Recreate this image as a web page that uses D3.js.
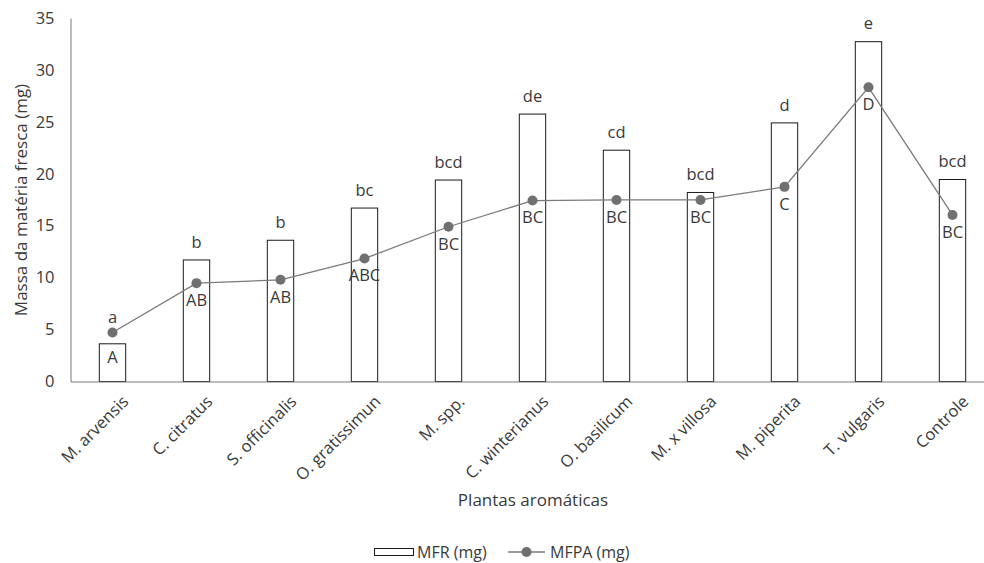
<!DOCTYPE html>
<html><head><meta charset="utf-8">
<script src="https://cdn.jsdelivr.net/npm/d3@7"></script>
<style>
html,body{margin:0;padding:0;background:#fff;}
text{font-family:"Open Sans","Lato",sans-serif;fill:#3a3a3a;}
</style></head>
<body><svg id="chart" width="984" height="563"></svg>
<script>
const categories = ["M. arvensis","C. citratus","S. officinalis","O. gratissimun","M. spp.","C. winterianus","O. basilicum","M. x villosa","M. piperita","T. vulgaris","Controle"];
const mfr  = [3.63, 11.7, 13.6, 16.7, 19.4, 25.75, 22.27, 18.2, 24.9, 32.72, 19.45];
const mfpa = [4.72, 9.47, 9.79, 11.84, 14.9, 17.42, 17.48, 17.48, 18.74, 28.33, 16.04];
const mfrLetters  = ["a","b","b","bc","bcd","de","cd","bcd","d","e","bcd"];
const mfpaLetters = ["A","AB","AB","ABC","BC","BC","BC","BC","C","D","BC"];
const yTicks = [0,5,10,15,20,25,30,35];

const FS = "16.5px";
const svg = d3.select("#chart");
const x = d3.scaleBand().domain(categories).range([70.5, 994.5]).paddingInner(0.686).paddingOuter(0.343);
const y = d3.scaleLinear().domain([0,35]).range([381.5, 18]);
const cx = c => x(c) + x.bandwidth()/2;

// bars
svg.append("g").selectAll("rect").data(categories).join("rect")
  .attr("x", d => x(d)).attr("y", (d,i) => y(mfr[i]))
  .attr("width", x.bandwidth()).attr("height", (d,i) => y(0) - y(mfr[i]))
  .attr("fill", "#fff").attr("stroke", "#1a1a1a").attr("stroke-width", 1);

// axes
const yAxis = svg.append("g").attr("transform", "translate(70.5,0)")
  .call(d3.axisLeft(y).tickValues(yTicks).tickSize(0).tickPadding(16));
yAxis.select(".domain").attr("stroke", "#7a7a7a");
yAxis.selectAll("text").style("font-size", FS).attr("fill", "#3a3a3a");

const xAxis = svg.append("g").attr("transform", `translate(0,${y(0)})`)
  .call(d3.axisBottom(x).tickSize(0).tickPadding(0));
xAxis.select(".domain").attr("stroke", "#7a7a7a");
xAxis.selectAll("text").style("font-size", FS).attr("fill", "#3a3a3a")
  .attr("text-anchor", "end")
  .attr("transform", "translate(13,17) rotate(-45)").attr("dy", "0.35em");

// line
const line = d3.line().x((d,i) => cx(categories[i])).y(d => y(d));
svg.append("path").datum(mfpa).attr("d", line)
  .attr("fill", "none").attr("stroke", "#7a7a7a").attr("stroke-width", 1.3);
svg.append("g").selectAll("circle").data(mfpa).join("circle")
  .attr("cx", (d,i) => cx(categories[i])).attr("cy", d => y(d)).attr("r", 5)
  .attr("fill", "#707070");

// labels
svg.append("g").selectAll("text").data(mfrLetters).join("text")
  .attr("x", (d,i) => cx(categories[i]))
  .attr("y", (d,i) => Math.min(y(mfr[i]) - 18, y(mfpa[i]) - 15))
  .attr("dy", "0.35em").attr("text-anchor", "middle").style("font-size", FS).text(d => d);
svg.append("g").selectAll("text").data(mfpaLetters).join("text")
  .attr("x", (d,i) => cx(categories[i]))
  .attr("y", (d,i) => Math.max(y(mfpa[i]) + 17, y(mfr[i]) + 13))
  .attr("dy", "0.35em").attr("text-anchor", "middle").style("font-size", FS).text(d => d);

// titles
svg.append("text").attr("transform", "translate(21,200) rotate(-90)")
  .attr("text-anchor", "middle").attr("dy", "0.35em").style("font-size", "17px")
  .text("Massa da matéria fresca (mg)");
svg.append("text").attr("x", 533).attr("y", 500).attr("dy", "0.35em")
  .attr("text-anchor", "middle").style("font-size", "17px").text("Plantas aromáticas");

// legend
const lg = svg.append("g").attr("transform", "translate(0,552)");
lg.append("rect").attr("x", 374.5).attr("y", -3.5).attr("width", 39).attr("height", 7)
  .attr("fill", "#fff").attr("stroke", "#1a1a1a");
lg.append("text").attr("x", 417).attr("dy", "0.35em").style("font-size", "16px").text("MFR (mg)");
lg.append("line").attr("x1", 508).attr("x2", 545).attr("stroke", "#7a7a7a").attr("stroke-width", 1.3);
lg.append("circle").attr("cx", 526.5).attr("r", 5).attr("fill", "#707070");
lg.append("text").attr("x", 550).attr("dy", "0.35em").style("font-size", "16px").text("MFPA (mg)");
</script></body></html>
